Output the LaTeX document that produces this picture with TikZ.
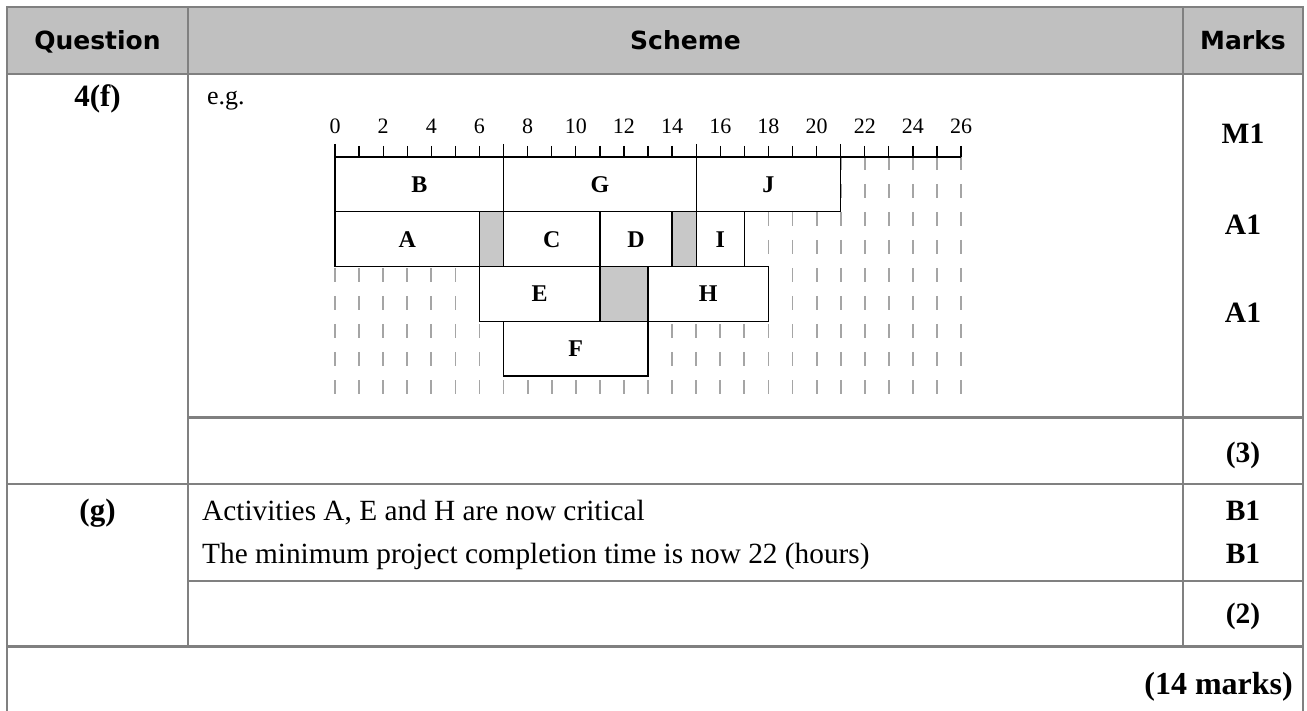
\documentclass[tikz,border=0pt]{standalone}
\usepackage{fontspec}
\setmainfont{Liberation Serif}
\newfontfamily\hdrfont{DejaVu Sans}
\definecolor{rulegray}{RGB}{128,128,128}
\definecolor{headfill}{RGB}{192,192,192}
\definecolor{cellgray}{RGB}{200,200,200}
\definecolor{dashgray}{RGB}{165,165,165}
\begin{document}
\begin{tikzpicture}[x=1pt,y=-1pt,
  rulel/.style={draw=rulegray,line width=2.6pt},
  txt/.style={inner sep=0pt,anchor=base},
  hdr/.style={txt,font=\hdrfont\bfseries\fontsize{25}{30}\selectfont},
  body/.style={txt,font=\fontsize{29.3}{34}\selectfont},
  bbody/.style={txt,font=\fontsize{29.5}{34}\selectfont\bfseries},
  qbody/.style={txt,font=\fontsize{31}{36}\selectfont\bfseries},
  num/.style={txt,font=\fontsize{22}{26}\selectfont},
  lbl/.style={txt,font=\fontsize{24}{28}\selectfont\bfseries},
  boxst/.style={draw=black,fill=white,line width=1.4pt},
  gapst/.style={draw=black,fill=cellgray,line width=1.4pt},
  dashst/.style={draw=dashgray,line width=1.8pt,dash pattern=on 14pt off 14pt},
  tickst/.style={draw=black,line width=1.3pt}
]
\useasboundingbox (0,0) rectangle (1307,711);
% header fill
\fill[headfill] (7,7) rectangle (1303,74);
% table rules
\draw[rulel] (7,720) -- (7,7) -- (1303,7) -- (1303,720);
\draw[rulel] (7,74) -- (1303,74);
\draw[rulel] (188,417.7) -- (1303,417.7);
\draw[rulel] (7,484) -- (1303,484);
\draw[rulel] (188,581) -- (1303,581);
\draw[rulel] (7,646.7) -- (1303,646.7);
\draw[rulel] (188,7) -- (188,646.7);
\draw[rulel] (1183,7) -- (1183,646.7);
% header text
\node[hdr] (hq) at (97.5,50) {Question};
\node[hdr] (hs) at (685.5,50) {Scheme};
\node[hdr] (hm) at (1243,50) {Marks};
% first column
\node[qbody] (q4f) at (97.5,107) {4(f)};
\node[qbody] (qg) at (97.5,520) {(g)};
% marks
\node[bbody] (m1) at (1243,144) {M1};
\node[bbody] (a1) at (1243,235) {A1};
\node[bbody] (a2) at (1243,323) {A1};
\node[bbody] (m3) at (1243,462) {(3)};
\node[bbody] (b1) at (1243,520) {B1};
\node[bbody] (b2) at (1243,563) {B1};
\node[bbody] (m2) at (1243,623) {(2)};
\node[txt,font=\fontsize{32}{36}\selectfont\bfseries,anchor=base east] (tot) at (1293,694) {(14 marks)};
% body text
\node[body,anchor=base west] (t1) at (202,520) {Activities A, E and H are now critical};
\node[body,anchor=base west] (t2) at (202,563) {The minimum project completion time is now 22 (hours)};
\node[txt,anchor=base west,font=\fontsize{26}{30}\selectfont] (eg) at (207,105) {e.g.};
% chart
\begin{scope}[xshift=335pt,x=24.08pt]
  \foreach \i in {0,...,26} \draw[dashst] (\i,156) -- (\i,394);
  % row 1
  \draw[boxst] (0,157) rectangle (7,211.75);
  \draw[boxst] (7,157) rectangle (15,211.75);
  \draw[boxst] (15,157) rectangle (21,211.75);
  % row 2
  \draw[boxst] (0,211.75) rectangle (6,266.5);
  \draw[gapst] (6,211.75) rectangle (7,266.5);
  \draw[boxst] (7,211.75) rectangle (11,266.5);
  \draw[boxst] (11,211.75) rectangle (14,266.5);
  \draw[gapst] (14,211.75) rectangle (15,266.5);
  \draw[boxst] (15,211.75) rectangle (17,266.5);
  % row 3
  \draw[boxst] (6,266.5) rectangle (11,321.25);
  \draw[gapst] (11,266.5) rectangle (13,321.25);
  \draw[boxst] (13,266.5) rectangle (18,321.25);
  % row 4
  \draw[boxst] (7,321.25) rectangle (13,376);
  % labels
  \node[lbl] (B) at (3.5,192.4) {B};
  \node[lbl] (G) at (11,192.4) {G};
  \node[lbl] (J) at (18,192.4) {J};
  \node[lbl] (A) at (3,247.1) {A};
  \node[lbl] (C) at (9,247.1) {C};
  \node[lbl] (D) at (12.5,247.1) {D};
  \node[lbl] (I) at (16,247.1) {I};
  \node[lbl] (E) at (8.5,301.9) {E};
  \node[lbl] (H) at (15.5,301.9) {H};
  \node[lbl] (F) at (10,356.6) {F};
  % axis
  \draw[tickst] (0,157) -- (26,157);
  \foreach \i in {0,...,26} \draw[tickst] (\i,146) -- (\i,157);
  \foreach \i in {0,7,15,21} \draw[tickst] (\i,144) -- (\i,157);
  \foreach \i in {0,2,...,26} \node[num] (n\i) at (\i,134) {\i};
\end{scope}
\end{tikzpicture}
\end{document}
